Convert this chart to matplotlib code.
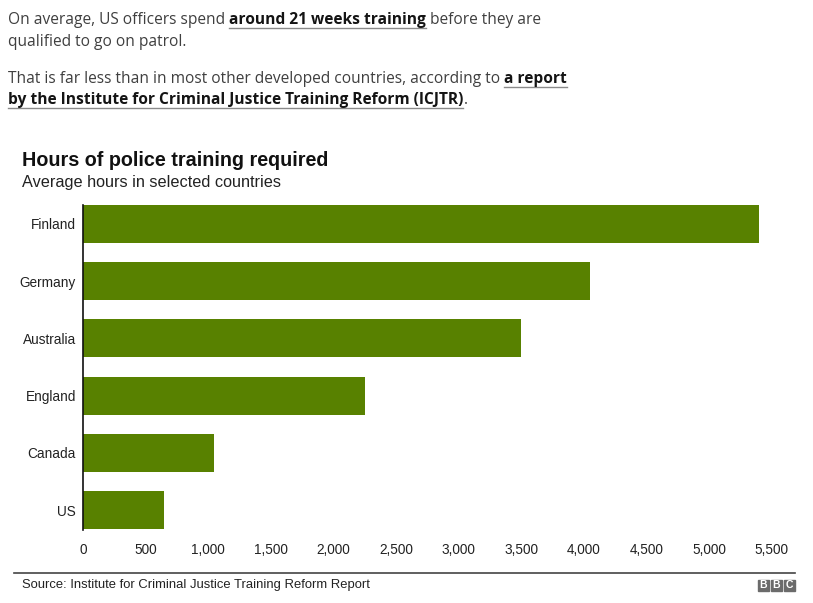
import matplotlib.pyplot as plt
from matplotlib.patches import Rectangle
from matplotlib.lines import Line2D

countries = ["Finland", "Germany", "Australia", "England", "Canada", "US"]
hours = [5400, 4050, 3500, 2250, 1050, 650]
xticks = [0, 500, 1000, 1500, 2000, 2500, 3000, 3500, 4000, 4500, 5000, 5500]
xticklabels = ["0", "500", "1,000", "1,500", "2,000", "2,500", "3,000",
               "3,500", "4,000", "4,500", "5,000", "5,500"]

intro = [
    [("On average, US officers spend ", False), ("around 21 weeks training", True),
     (" before they are", False)],
    [("qualified to go on patrol.", False)],
    [("That is far less than in most other developed countries, according to ", False),
     ("a report", True)],
    [("by the Institute for Criminal Justice Training Reform (ICJTR)", True), (".", False)],
]
baselines = [24, 46, 83, 104]

W, H = 813, 603
fig = plt.figure(figsize=(W / 100, H / 100), dpi=100)
renderer = fig.canvas.get_renderer()

body_font = "Open Sans"
for line, yb in zip(intro, baselines):
    x = 8
    for txt, bold in line:
        t = fig.text(x / W, 1 - yb / H, txt, fontsize=11.2, family=body_font,
                     fontweight="bold" if bold else "normal",
                     color="#141414" if bold else "#3f3f3f", va="baseline", ha="left")
        bb = t.get_window_extent(renderer)
        if bold:
            fig.add_artist(Line2D([bb.x0 / W, bb.x1 / W], [1 - (yb + 4) / H] * 2,
                                  color="#8a8a8a", lw=1.0))
        x = bb.x1

# chart
ax = fig.add_axes([83 / W, 1 - 529.5 / H, (790 - 83) / W, (529.5 - 204.5) / H])
ypos = list(range(len(countries)))
ax.barh(ypos, hours, height=0.665, color="#588100")
ax.set_ylim(len(countries) - 1 + 0.335, -0.335)
ax.set_xlim(0, (790 - 83) / 0.1252)
ax.set_yticks(ypos, countries)
ax.set_xticks(xticks, xticklabels)
ax.tick_params(axis="both", length=0, labelsize=9.8, colors="#222222",
               labelfontfamily="Liberation Sans")
ax.tick_params(axis="x", pad=10)
ax.tick_params(axis="y", pad=5)
for s in ["top", "right", "bottom"]:
    ax.spines[s].set_visible(False)
ax.spines["left"].set_color("#111111")
ax.spines["left"].set_linewidth(1.2)

fig.text(22 / W, 1 - 160 / H, "Hours of police training required", fontsize=14.2,
         fontweight="bold", family="Liberation Sans", color="#111111", va="center")
fig.text(22 / W, 1 - 182 / H, "Average hours in selected countries", fontsize=11.7,
         family="Liberation Sans", color="#222222", va="center")

# footer
fig.add_artist(Line2D([14 / W, 795 / W], [1 - 573 / H] * 2, color="#444444", lw=1.2))
fig.text(22 / W, 1 - 585 / H, "Source: Institute for Criminal Justice Training Reform Report",
         fontsize=9.4, family="Liberation Sans", color="#222222", va="center")
for i, letter in enumerate("BBC"):
    x0 = 758 + i * 13
    fig.add_artist(Rectangle((x0 / W, 1 - 591 / H), 11 / W, 11 / H, color="#6b6b6b",
                             transform=fig.transFigure))
    fig.text((x0 + 5.5) / W, 1 - 585.5 / H, letter, fontsize=7.5, fontweight="bold",
             family="Liberation Sans", color="white", ha="center", va="center")

fig.savefig("out.png", dpi=100)
